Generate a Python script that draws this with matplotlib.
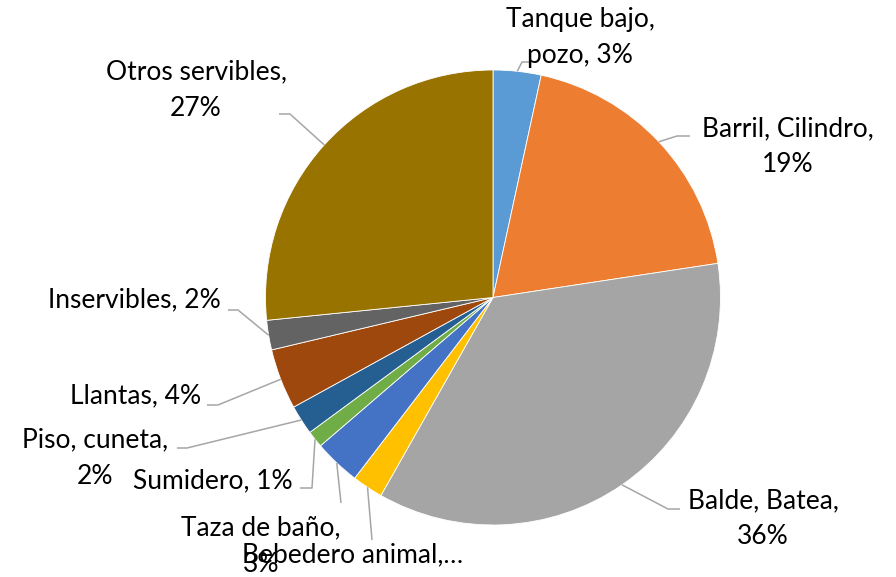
import numpy as np
import matplotlib
matplotlib.use('Agg')
import matplotlib.pyplot as plt

categories = ['Tanque bajo, pozo', 'Barril, Cilindro', 'Balde, Batea', 'Bebedero animal',
              'Taza de baño', 'Sumidero', 'Piso, cuneta', 'Llantas', 'Inservibles',
              'Otros servibles']
percents = [3.4, 19.2, 35.6, 2.2, 3.3, 1.2, 2.1, 4.3, 2.1, 26.6]
colors = ['#5B9BD5', '#ED7D31', '#A5A5A5', '#FFC000', '#4472C4', '#70AD47',
          '#255E91', '#9E480E', '#636363', '#997300']
label_texts = ['Tanque bajo,\npozo, {}%', 'Barril, Cilindro,\n{}%', 'Balde, Batea,\n{}%',
               'Bebedero animal,…', 'Taza de baño,\n{}%', 'Sumidero, {}%',
               'Piso, cuneta,\n{}%', 'Llantas, {}%', 'Inservibles, {}%',
               'Otros servibles,\n{}%']

W, H = 896, 577
cx, cy, r = 493, 297.5, 227.5
line_h = 36

plt.rcParams['font.family'] = ['Lato', 'DejaVu Sans']
fig = plt.figure(figsize=(W / 100, H / 100), dpi=100)
ax = fig.add_axes([0, 0, 1, 1])

wedges, _ = ax.pie(percents, colors=colors, startangle=90, counterclock=False,
                   center=(cx, H - cy), radius=r,
                   wedgeprops=dict(edgecolor='white', linewidth=0.6))
ax.set_xlim(0, W)
ax.set_ylim(0, H)
ax.set_aspect('equal')
ax.axis('off')

# label layout in pixel coords: centre of first text line, elbow points of the leader
layout = [
    ((580, 19), [(522, 62), (533, 62)]),
    ((788, 129), [(677, 136), (690, 136)]),
    ((763, 501), [(668, 509), (680, 509)]),
    ((353, 555), [(372, 540)]),
    ((261, 528), [(341, 503)]),
    ((213, 481), [(312, 488), (300, 488)]),
    ((95, 440), [(187, 448), (177, 448)]),
    ((136, 396), [(218, 405), (207, 405)]),
    ((134, 300), [(238, 310), (228, 310)]),
    ((196, 72), [(290, 114), (279, 114)]),
]

for i, (w, (tpos, elbows)) in enumerate(zip(wedges, layout)):
    mid = np.deg2rad((w.theta1 + w.theta2) / 2)
    ax_, ay_ = cx + r * np.cos(mid), (H - cy) + r * np.sin(mid)
    xs = [ax_] + [e[0] for e in elbows]
    ys = [ay_] + [H - e[1] for e in elbows]
    ax.plot(xs, ys, color='#A6A6A6', lw=1.1, solid_capstyle='butt')
    lines = label_texts[i].format(round(percents[i])).split('\n')
    for k, line in enumerate(lines):
        ax.text(tpos[0], H - tpos[1] - k * line_h, line, ha='center', va='center',
                fontsize=19, color='#000000')

fig.savefig('out.png', dpi=100)
